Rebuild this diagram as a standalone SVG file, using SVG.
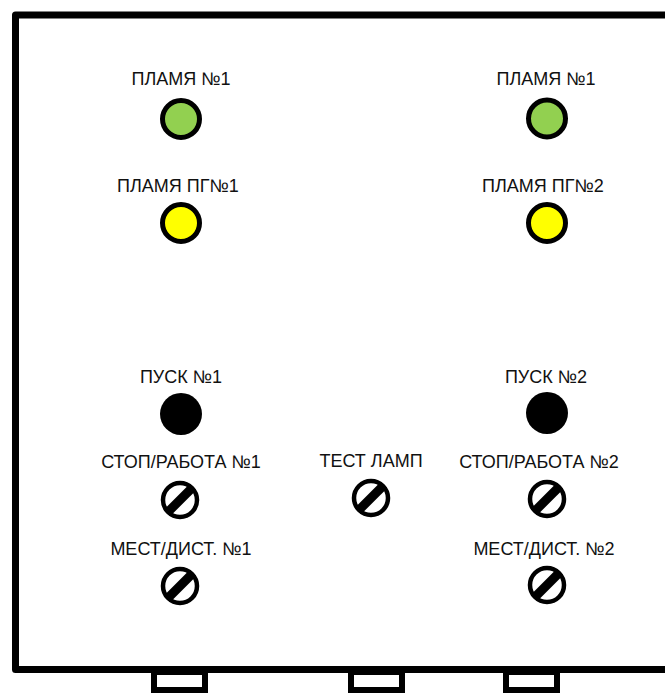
<svg xmlns="http://www.w3.org/2000/svg" width="665" height="693" viewBox="0 0 665 693">
  <defs>
    <style>
      .lbl { font-family: "Liberation Sans", Arial, sans-serif; font-size: 18px; fill: #111; text-anchor: middle; }
      .frame { fill: none; stroke: #000; stroke-width: 7; stroke-linejoin: round; }
      .tab { fill: #fff; stroke: #000; stroke-width: 6; }
      .led { stroke: #000; stroke-width: 5; }
      .green { fill: #92d050; }
      .yellow { fill: #ffff00; }
      .btn { fill: #000; }
    </style>
    <g id="switch">
      <circle cx="0" cy="0" r="17" fill="#fff" stroke="#000" stroke-width="4.5"/>
      <line x1="-13" y1="13" x2="13" y2="-13" stroke="#000" stroke-width="9"/>
    </g>
  </defs>

  <g id="frame">
    <path class="frame" d="M 670 15 H 15.5 V 669.5 H 670"/>
  </g>
  <g id="tabs">
    <rect class="tab" x="154" y="672" width="51" height="18"/>
    <rect class="tab" x="351" y="672" width="51" height="18"/>
    <rect class="tab" x="506" y="672" width="51" height="18"/>
  </g>

  <g id="flame1-left">
    <text class="lbl" x="181" y="85">ПЛАМЯ №1</text>
    <circle class="led green" cx="181" cy="119" r="18.5"/>
  </g>
  <g id="flame-pg1">
    <text class="lbl" x="178" y="192">ПЛАМЯ ПГ№1</text>
    <circle class="led yellow" cx="181" cy="223" r="18.5"/>
  </g>
  <g id="flame1-right">
    <text class="lbl" x="546" y="85">ПЛАМЯ №1</text>
    <circle class="led green" cx="547" cy="118.5" r="18.5"/>
  </g>
  <g id="flame-pg2">
    <text class="lbl" x="543" y="192">ПЛАМЯ ПГ№2</text>
    <circle class="led yellow" cx="547" cy="223" r="18.5"/>
  </g>

  <g id="start1">
    <text class="lbl" x="181" y="383">ПУСК №1</text>
    <circle class="btn" cx="181" cy="414" r="21"/>
  </g>
  <g id="start2">
    <text class="lbl" x="546" y="383">ПУСК №2</text>
    <circle class="btn" cx="547" cy="413" r="21"/>
  </g>

  <g id="stop1">
    <text class="lbl" x="181" y="468">СТОП/РАБОТА №1</text>
    <use href="#switch" x="180" y="500"/>
  </g>
  <g id="test">
    <text class="lbl" x="371" y="467">ТЕСТ ЛАМП</text>
    <use href="#switch" x="371" y="498"/>
  </g>
  <g id="stop2">
    <text class="lbl" x="539" y="468">СТОП/РАБОТА №2</text>
    <use href="#switch" x="547" y="499"/>
  </g>

  <g id="local1">
    <text class="lbl" x="181" y="555">МЕСТ/ДИСТ. №1</text>
    <use href="#switch" x="180" y="586"/>
  </g>
  <g id="local2">
    <text class="lbl" x="544" y="555">МЕСТ/ДИСТ. №2</text>
    <use href="#switch" x="547" y="585"/>
  </g>
</svg>
